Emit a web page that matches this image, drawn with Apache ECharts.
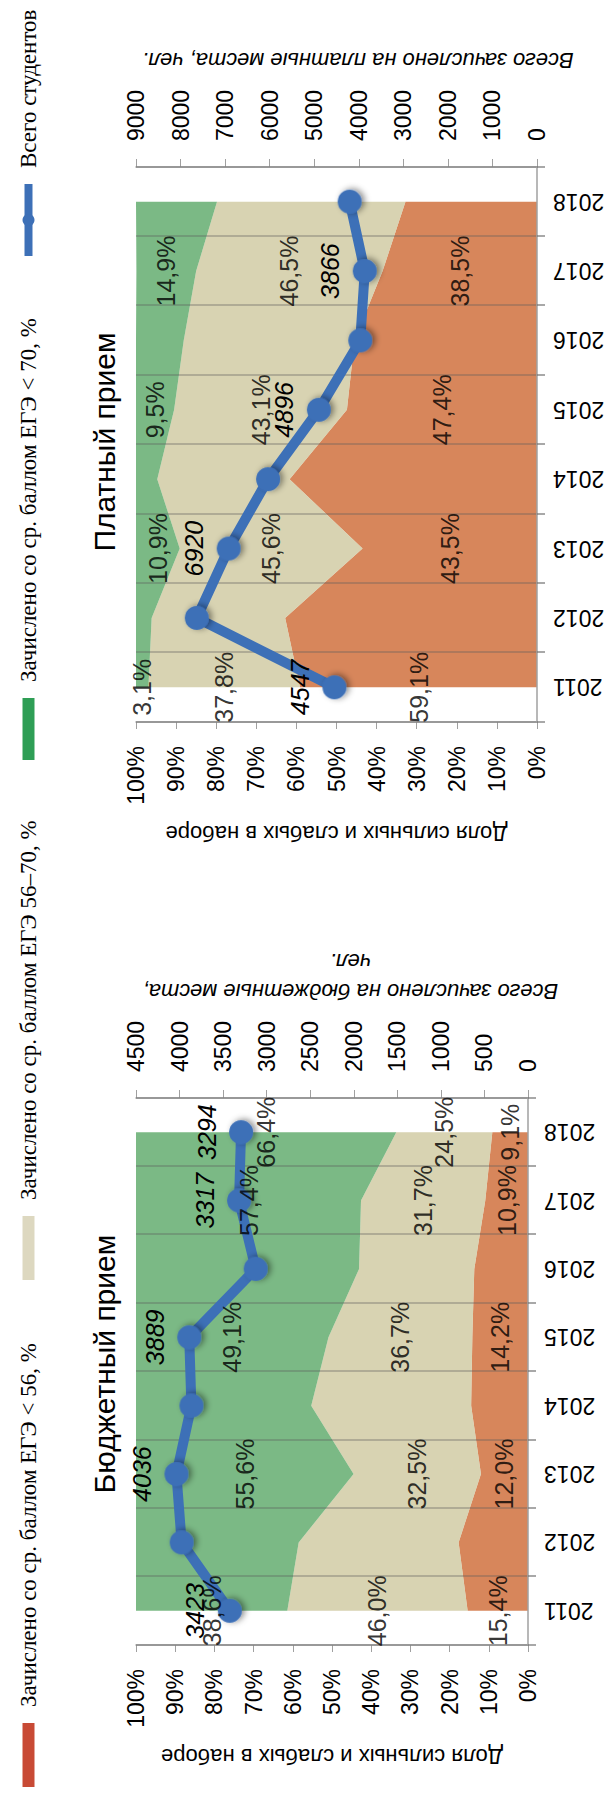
<!DOCTYPE html>
<html>
<head>
<meta charset="utf-8">
<script src="https://cdn.jsdelivr.net/npm/echarts@6/dist/echarts.min.js"></script>
<style>
html,body{margin:0;padding:0;background:#fff;}
#wrap{position:relative;width:612px;height:1796px;overflow:hidden;background:#fff;}
#chart{position:absolute;left:0;top:0;width:1796px;height:612px;transform-origin:0 0;transform:matrix(0,-1,1,0,0,1796);}
</style>
</head>
<body>
<div id="wrap"><div id="chart"></div></div>
<script>
// ---- data ----
const years = ['2011','2012','2013','2014','2015','2016','2017','2018'];
// Budget admission (%, stacked)
const budgetLow  = [15.4, 17.7, 12.0, 14.5, 14.2, 13.7, 10.9, 9.1];
const budgetMid  = [46.0, 40.8, 32.5, 40.8, 36.7, 29.4, 31.7, 24.5];
const budgetHigh = [38.6, 41.5, 55.6, 44.7, 49.1, 56.9, 57.4, 66.4];
const budgetTotal = [3423, 3976, 4036, 3864, 3889, 3126, 3317, 3294];
const budgetLabelYears = ['2011','2013','2015','2017','2018'];
// Paid admission (%, stacked)
const paidLow  = [59.1, 62.8, 43.5, 61.7, 47.4, 45.5, 38.5, 32.8];
const paidMid  = [37.8, 33.3, 45.6, 33.0, 43.1, 42.6, 46.5, 47.0];
const paidHigh = [3.1, 3.9, 10.9, 5.3, 9.5, 11.9, 14.9, 20.2];
const paidTotal = [4547, 7636, 6920, 6036, 4896, 3967, 3866, 4205];
const paidLabelYears = ['2011','2013','2015','2017'];
// ticks / names
const pctTicks = {min: 0, max: 100, interval: 10};
const budgetCountTicks = {min: 0, max: 4500, interval: 500};
const paidCountTicks = {min: 0, max: 9000, interval: 1000};
const names = ['Зачислено со ср. баллом ЕГЭ < 56, %', 'Зачислено со ср. баллом ЕГЭ 56–70, %', 'Зачислено со ср. баллом ЕГЭ < 70, %', 'Всего студентов'];
const titles = ['Бюджетный прием', 'Платный прием'];
const leftAxisName = 'Доля сильных и слабых в наборе';
const budgetRightName = 'Всего зачислено на бюджетные места,\nчел.';
const paidRightName = 'Всего зачислено на платные места, чел.';

// ---- styles ----
const SANS = 'Liberation Sans, Arial, sans-serif';
const SERIF = 'Liberation Serif, Times New Roman, serif';
const legendColors = ['#c84a35', '#ddd8c0', '#2e9e55', '#3d70b7'];
const areaColors = ['rgba(205,104,50,0.8)', 'rgba(205,198,156,0.78)', 'rgba(90,168,103,0.8)'];
const lineColor = '#3d70b7';
const axisGray = '#a0a0a0';

function fmtPct(v){ return v.toFixed(1).replace('.', ',') + '%'; }

function xAxisFor(g){
  return {
    type: 'category', gridIndex: g, data: years, boundaryGap: true, z: 5,
    axisLine: {lineStyle: {color: axisGray, width: 1.5}},
    axisTick: {show: true, length: 8, lineStyle: {color: 'rgba(110,110,110,0.6)', width: 2}},
    splitLine: {show: true, lineStyle: {color: 'rgba(90,90,90,0.33)', width: 2}},
    axisLabel: {rotate: 90, margin: 16, fontSize: 23, color: '#000', fontFamily: SANS}
  };
}
function pctAxis(g){
  return Object.assign({
    type: 'value', gridIndex: g, position: 'left',
    name: leftAxisName, nameLocation: 'middle', nameRotate: 90, nameGap: 100,
    nameTextStyle: {fontSize: 22, color: '#000', fontFamily: SANS},
    axisLine: {show: true, lineStyle: {color: axisGray, width: 1.5}},
    axisTick: {show: true, length: 7, lineStyle: {color: axisGray}},
    splitLine: {show: false},
    axisLabel: {formatter: '{value}%', margin: 24, fontSize: 23, color: '#000', fontFamily: SANS}
  }, pctTicks);
}
function countAxis(g, ticks, name, shift){
  return Object.assign({
    type: 'value', gridIndex: g, position: 'right',
    name: name, nameLocation: 'middle', nameRotate: 90, nameGap: 92,
    nameTextStyle: {fontSize: 22, color: '#000', fontFamily: SANS, fontStyle: 'italic', lineHeight: 30, padding: [0, shift, 0, 0]},
    axisLine: {show: true, lineStyle: {color: axisGray, width: 1.5}},
    axisTick: {show: true, length: 8, lineStyle: {color: axisGray}},
    splitLine: {show: false},
    axisLabel: {margin: 26, fontSize: 23, color: '#000', fontFamily: SANS, formatter: v => String(v)}
  }, ticks);
}

function areaSeries(name, data, idx, g, stack){
  return {
    name: name, type: 'line', xAxisIndex: g, yAxisIndex: g * 2, stack: stack,
    data: data, symbol: 'none', showSymbol: false,
    lineStyle: {width: 0}, itemStyle: {color: legendColors[idx]},
    areaStyle: {color: areaColors[idx], opacity: 1}, z: 2
  };
}
function bandLabelSeries(low, mid, high, labelYears, g){
  const out = [];
  const bands = [low, mid, high];
  bands.forEach((arr, b) => {
    const data = labelYears.map(y => {
      const i = years.indexOf(y);
      let base = 0;
      for (let k = 0; k < b; k++) base += bands[k][i];
      return [y, base + arr[i] / 2, arr[i]];
    });
    out.push({
      type: 'scatter', xAxisIndex: g, yAxisIndex: g * 2, data: data,
      symbolSize: 1, itemStyle: {color: 'transparent'}, z: 12, silent: true,
      label: {show: true, position: 'inside', formatter: p => fmtPct(p.value[2]),
              fontSize: 25, color: '#000', fontFamily: SANS}
    });
  });
  return out;
}
function totalSeries(data, labelYears, g){
  return {
    name: names[3], type: 'line', xAxisIndex: g, yAxisIndex: g * 2 + 1, data: data,
    symbol: 'circle', symbolSize: 24, z: 10,
    lineStyle: {color: lineColor, width: 10},
    itemStyle: {color: lineColor, shadowBlur: 6, shadowColor: 'rgba(0,0,0,0.45)', shadowOffsetX: 1, shadowOffsetY: 3},
    label: {show: true, position: 'top', distance: 10, fontSize: 25, fontStyle: 'italic', color: '#000', fontFamily: SANS,
            formatter: p => labelYears.indexOf(p.name) >= 0 ? String(p.value) : ''}
  };
}
function legendFor(i, left, w, h, icon){
  const item = {name: names[i], itemStyle: {color: legendColors[i]}};
  if (icon) item.icon = icon;
  else item.lineStyle = {color: legendColors[i], width: 8};
  return {
    left: left, top: 12, itemWidth: w, itemHeight: h, selectedMode: false,
    data: [item],
    textStyle: {fontFamily: SERIF, fontSize: 23, color: '#000', padding: [0, 0, 0, 11]}
  };
}

const option = {
  animation: false,
  backgroundColor: '#fff',
  title: [
    {text: titles[0], left: 427, top: 84, textAlign: 'center', textStyle: {fontSize: 30, fontWeight: 'normal', color: '#000', fontFamily: SANS}},
    {text: titles[1], left: 1349, top: 84, textAlign: 'center', textStyle: {fontSize: 30, fontWeight: 'normal', color: '#000', fontFamily: SANS}}
  ],
  legend: [
    legendFor(0, 4, 64, 12, 'rect'),
    legendFor(1, 511, 64, 12, 'rect'),
    legendFor(2, 1031, 62, 12, 'rect'),
    legendFor(3, 1531, 72, 15, null)
  ],
  grid: [
    {left: 151, top: 136, width: 547, height: 392},
    {left: 1074, top: 136, width: 555, height: 401}
  ],
  xAxis: [xAxisFor(0), xAxisFor(1)],
  yAxis: [
    pctAxis(0), countAxis(0, budgetCountTicks, budgetRightName, 37),
    pctAxis(1), countAxis(1, paidCountTicks, paidRightName, 43)
  ],
  series: [
    areaSeries(names[0], budgetLow, 0, 0, 'b'),
    areaSeries(names[1], budgetMid, 1, 0, 'b'),
    areaSeries(names[2], budgetHigh, 2, 0, 'b'),
    areaSeries(names[0], paidLow, 0, 1, 'p'),
    areaSeries(names[1], paidMid, 1, 1, 'p'),
    areaSeries(names[2], paidHigh, 2, 1, 'p'),
    totalSeries(budgetTotal, budgetLabelYears, 0),
    totalSeries(paidTotal, paidLabelYears, 1)
  ].concat(bandLabelSeries(budgetLow, budgetMid, budgetHigh, budgetLabelYears, 0))
   .concat(bandLabelSeries(paidLow, paidMid, paidHigh, paidLabelYears, 1))
};

const chart = echarts.init(document.getElementById('chart'), null, {renderer: 'svg', width: 1796, height: 612});
chart.setOption(option);
</script>
</body>
</html>
